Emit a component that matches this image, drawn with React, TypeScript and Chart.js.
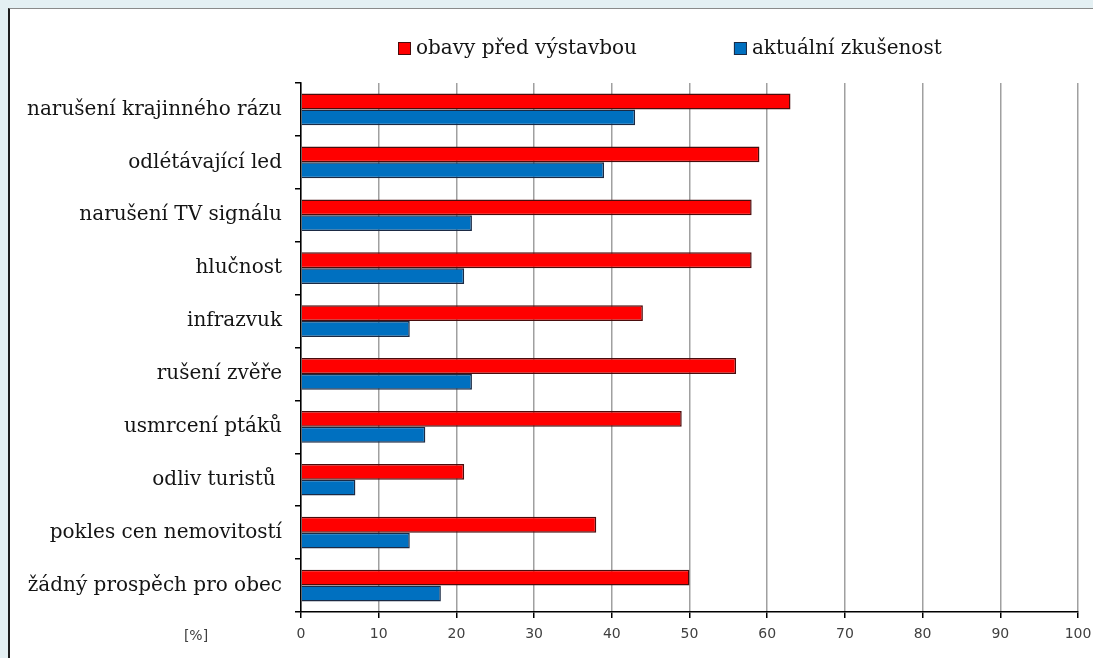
import React, { useEffect, useRef } from "react";
import { Chart, registerables } from "chart.js";

Chart.register(...registerables);

const categories = [
  "narušení krajinného rázu",
  "odlétávající led",
  "narušení TV signálu",
  "hlučnost",
  "infrazvuk",
  "rušení zvěře",
  "usmrcení ptáků",
  "odliv turistů ",
  "pokles cen nemovitostí",
  "žádný prospěch pro obec",
];
const concernsBefore = [63, 59, 58, 58, 44, 56, 49, 21, 38, 50];
const actualExperience = [43, 39, 22, 21, 14, 22, 16, 7, 14, 18];
const seriesNames = ["obavy před výstavbou", "aktuální zkušenost"];
const xMin = 0;
const xMax = 100;
const xStep = 10;
const unitLabel = "[%]";

const SERIF = "'DejaVu Serif', serif";
const SANS = "'DejaVu Sans', sans-serif";

const overlayPlugin = {
  id: "overlay",
  afterDraw(chart: any) {
    const ctx = chart.ctx;
    ctx.save();
    ctx.font = `20px ${SERIF}`;
    ctx.textBaseline = "middle";
    ctx.textAlign = "left";
    let x = 398;
    const y = 48;
    chart.data.datasets.forEach((ds: any) => {
      ctx.fillStyle = ds.backgroundColor;
      ctx.fillRect(x, y - 6, 13, 13);
      ctx.strokeStyle = ds.borderColor;
      ctx.lineWidth = 1;
      ctx.strokeRect(x + 0.5, y - 5.5, 12, 12);
      ctx.fillStyle = "#141414";
      ctx.fillText(ds.label, x + 18, y + 1);
      x += 18 + ctx.measureText(ds.label).width + 97;
    });
    const area = chart.chartArea;
    ctx.font = `14px ${SANS}`;
    ctx.fillStyle = "#404040";
    ctx.textAlign = "center";
    ctx.fillText(unitLabel, area.left - 105, area.bottom + 24);
    ctx.restore();
  },
};

export default function App() {
  const ref = useRef<HTMLCanvasElement>(null);
  useEffect(() => {
    document.body.style.margin = "0";
    const chart = new Chart(ref.current!, {
      type: "bar",
      data: {
        labels: categories,
        datasets: [
          {
            label: seriesNames[0],
            data: concernsBefore,
            backgroundColor: "#ff0000",
            borderColor: "#4a0c0c",
            borderWidth: 1.5,
            categoryPercentage: 0.6,
            barPercentage: 1.0,
          },
          {
            label: seriesNames[1],
            data: actualExperience,
            backgroundColor: "#0070c0",
            borderColor: "#1b2a44",
            borderWidth: 1.5,
            categoryPercentage: 0.6,
            barPercentage: 1.0,
          },
        ],
      },
      options: {
        indexAxis: "y",
        animation: false,
        responsive: false,
        layout: { padding: { top: 83, right: 15, left: 0, bottom: 0 } },
        plugins: {
          legend: { display: false },
          tooltip: { enabled: false },
        },
        scales: {
          x: {
            min: xMin,
            max: xMax,
            ticks: {
              stepSize: xStep,
              padding: 8,
              color: "#404040",
              font: { family: SANS, size: 14 },
            },
            grid: {
              color: "#a0a0a0",
              lineWidth: 1.5,
              tickColor: "#000",
              tickLength: 6,
            },
            border: { color: "#000", width: 1.5 },
            afterFit: (s: any) => {
              s.height = 46;
              s.paddingLeft = 0;
              s.paddingRight = 0;
            },
          },
          y: {
            ticks: {
              padding: 13,
              color: "#141414",
              font: { family: SERIF, size: 20 },
            },
            grid: {
              drawOnChartArea: false,
              tickColor: "#000",
              tickLength: 6,
              lineWidth: 1.5,
            },
            border: { color: "#000", width: 1.5 },
            afterFit: (s: any) => {
              s.width = 301;
              s.paddingTop = 0;
              s.paddingBottom = 0;
            },
          },
        },
      },
      plugins: [overlayPlugin],
    } as any);
    return () => chart.destroy();
  }, []);

  return (
    <div
      style={{
        position: "relative",
        width: 1093,
        height: 658,
        overflow: "hidden",
        background: "#e4f0f3",
      }}
    >
      <div
        style={{
          position: "absolute",
          left: 8,
          top: 8,
          width: 1100,
          height: 670,
          background: "#ffffff",
          borderLeft: "2px solid #1e1e1e",
          borderTop: "1px solid #8a8a8a",
        }}
      />
      <canvas
        ref={ref}
        width={1093}
        height={658}
        style={{ position: "absolute", left: 0, top: 0, width: 1093, height: 658 }}
      />
    </div>
  );
}
